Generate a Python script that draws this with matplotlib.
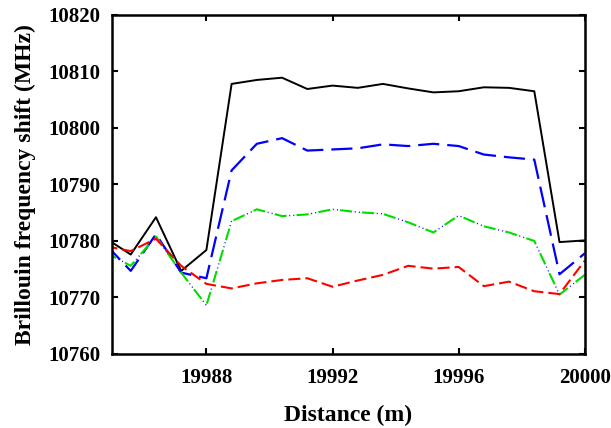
import numpy as np
import matplotlib
matplotlib.use('Agg')
from matplotlib import pyplot as plt

plt.rcParams['font.family'] = ['Liberation Serif', 'DejaVu Serif']
plt.rcParams['font.weight'] = 'bold'

# sample positions along the fibre (m), every 0.8 m
distance = 19984.8 + 0.8 * np.arange(20)

bfs_black = [10780.5, 10777.6, 10784.2, 10774.7, 10778.4, 10807.8, 10808.5, 10808.9,
             10806.9, 10807.5, 10807.1, 10807.8, 10807.0, 10806.3, 10806.5, 10807.2,
             10807.1, 10806.5, 10779.8, 10780.1]
bfs_blue = [10779.4, 10774.7, 10781.2, 10774.4, 10773.4, 10792.5, 10797.2, 10798.2,
            10796.0, 10796.2, 10796.4, 10797.1, 10796.8, 10797.2, 10796.8, 10795.3,
            10794.8, 10794.4, 10774.1, 10777.8]
bfs_green = [10778.0, 10775.6, 10780.8, 10774.4, 10768.6, 10783.5, 10785.6, 10784.4,
             10784.7, 10785.6, 10785.1, 10784.8, 10783.3, 10781.5, 10784.5, 10782.6,
             10781.5, 10780.0, 10770.5, 10774.0]
bfs_red = [10779.1, 10778.2, 10780.4, 10775.6, 10772.4, 10771.6, 10772.5, 10773.1,
           10773.4, 10771.9, 10773.0, 10774.0, 10775.6, 10775.1, 10775.4, 10772.0,
           10772.8, 10771.1, 10770.6, 10776.5]

xticks = [19988, 19992, 19996, 20000]
yticks = np.arange(10760, 10821, 10)

fig = plt.figure(figsize=(6.11, 4.28), dpi=100)
ax = fig.add_axes([0.183, 0.173, 0.774, 0.792])

ax.plot(distance, bfs_black, color='black', lw=1.4, ls='-')
ax.plot(distance, bfs_blue, color='#0000ff', lw=1.6, ls=(0, (9.5, 3.6)))
# green dashes with blue dots in the gaps
ax.plot(distance, bfs_green, color='#00dd00', lw=1.5, ls=(0, (5.8, 4.8)))
ax.plot(distance, bfs_green, color='#0000ff', lw=1.0, ls=(5.3, (0.7, 2.3, 0.7, 12.2)))
ax.plot(distance, bfs_red, color='#ff0000', lw=1.5, ls=(0, (5.8, 2.4)))

ax.set_xlim(19985, 20000)
ax.set_ylim(10760, 10820)
ax.set_xticks(xticks)
ax.set_yticks(yticks)
ax.tick_params(direction='in', top=True, right=True, length=4, width=1.5,
               labelsize=15, pad=10)
ax.tick_params(axis='y', pad=8)
for lab in ax.get_xticklabels() + ax.get_yticklabels():
    lab.set_fontweight('bold')
for sp in ax.spines.values():
    sp.set_linewidth(1.8)

ax.set_xlabel('Distance (m)', fontsize=17, fontweight='bold', labelpad=12)
ax.set_ylabel('Brillouin frequency shift (MHz)', fontsize=17, fontweight='bold', labelpad=9)

fig.savefig('out.png', dpi=100)
